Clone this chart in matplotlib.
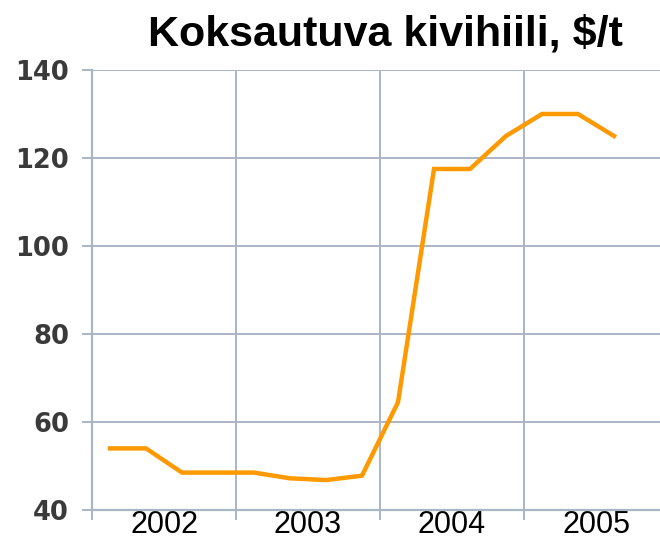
import matplotlib
matplotlib.use("Agg")
from matplotlib import pyplot as plt

plt.rcParams['font.family'] = ['Liberation Sans', 'DejaVu Sans']

# quarterly prices, 2002 Q1 .. 2005 Q3
quarters = [2002.125, 2002.375, 2002.625, 2002.875,
            2003.125, 2003.375, 2003.625, 2003.875,
            2004.125, 2004.375, 2004.625, 2004.875,
            2005.125, 2005.375, 2005.625]
prices = [54, 54, 48.5, 48.5,
          48.5, 47.2, 46.8, 47.8,
          64.5, 117.5, 117.5, 125,
          130, 130, 125]
years = [2002, 2003, 2004, 2005]
yticks = [40, 60, 80, 100, 120, 140]

grid_col = '#a9b6c4'

fig = plt.figure(figsize=(6.6, 5.4), dpi=100)
ax = fig.add_axes([92/660, 30/540, 576/660, 440/540])

ax.plot(quarters, prices, color='#ff9900', lw=3.2, solid_joinstyle='miter')

ax.set_xlim(2002, 2006)
ax.set_ylim(40, 140)
ax.set_yticks(yticks)
ax.set_yticklabels([str(v) for v in yticks], fontsize=18.5, fontweight='bold',
                   family='DejaVu Sans', color='#3a3a3a')
ax.set_xticks([2002, 2003, 2004, 2005, 2006])
ax.set_xticklabels([])
ax.set_xticks([y + 0.5 for y in years], minor=True)
ax.set_xticklabels([str(y) for y in years], minor=True, fontsize=22)
ax.tick_params(axis='x', which='minor', length=0, pad=0)
ax.tick_params(axis='x', which='major', length=7, width=1.4, color=grid_col)
ax.tick_params(axis='y', length=7, width=1.4, color=grid_col, pad=9.5)

ax.grid(True, which='major', color=grid_col, lw=1.4)
ax.set_axisbelow(True)
for s in ['top', 'right']:
    ax.spines[s].set_visible(False)
for s in ['left', 'bottom']:
    ax.spines[s].set_color(grid_col)
    ax.spines[s].set_linewidth(1.6)

fig.text(385/660, 1 - 46/540, r"Koksautuva kivihiili, \$/t", ha='center', va='baseline',
         fontsize=31, fontweight='bold')

fig.savefig('out.png', dpi=100)
